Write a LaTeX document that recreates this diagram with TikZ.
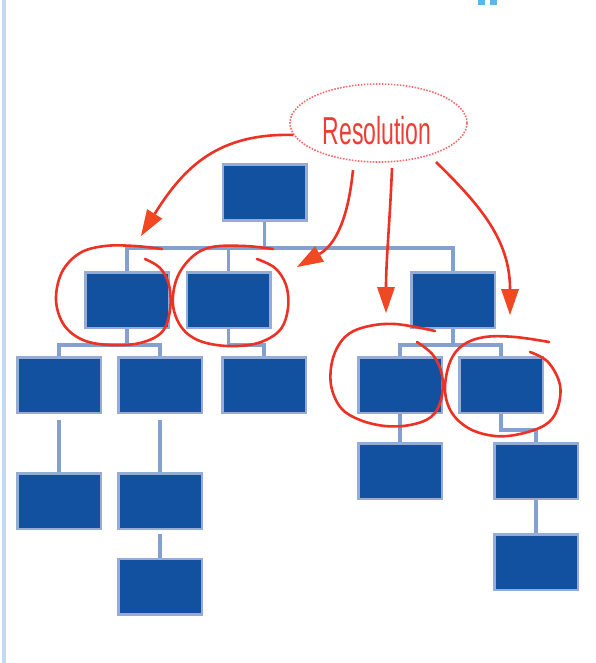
\documentclass[tikz,border=0pt]{standalone}
\usepackage{fontspec}
\setmainfont{Liberation Sans}
\usetikzlibrary{arrows.meta,shapes.geometric,calc,backgrounds}
\definecolor{boxfill}{RGB}{18,81,160}
\definecolor{boxedge}{RGB}{150,172,212}
\definecolor{connblue}{RGB}{132,160,206}
\definecolor{markred}{RGB}{236,50,36}
\definecolor{tipred}{RGB}{240,72,34}
\definecolor{ovalred}{RGB}{240,110,110}
\definecolor{labelred}{RGB}{238,62,52}
\definecolor{sidebar}{RGB}{197,218,240}
\definecolor{topmark}{RGB}{92,182,234}
\begin{document}
\begin{tikzpicture}[x=1pt,y=-1pt,
  orgbox/.style={draw=boxedge, fill=boxfill, line width=2.5pt,
    minimum width=83.5pt, minimum height=55.5pt, inner sep=0pt},
  conn/.style={draw=connblue, line width=3.5pt},
  redloop/.style={draw=markred, line width=2.6pt, line cap=round},
  redarrow/.style={draw=markred, line width=2.6pt,
    -{Triangle[length=26pt,width=18pt,fill=tipred,line width=0pt]}},
  resoval/.style={ellipse, draw=ovalred, line width=1.6pt,
    dash pattern=on 1.6pt off 1.4pt, minimum width=177pt, minimum height=78pt},
  restext/.style={text=labelred, font=\fontsize{39}{39}\selectfont, inner sep=0pt}]
\useasboundingbox (0,0) rectangle (595,663);

% page edge and the cut-off heading glyph
\draw[sidebar, line width=4pt] (4,0) -- (4,663);
\fill[topmark] (478,0) rectangle (485,5);
\fill[topmark] (490,0) rectangle (497,5);

% organisation chart boxes
\node[orgbox] (T) at (264.5,192.5) {};
\node[orgbox] (A) at (127,300) {};
\node[orgbox] (B) at (228.5,300) {};
\node[orgbox] (C) at (453,300) {};
\node[orgbox] (D) at (59,385) {};
\node[orgbox] (E) at (160,385) {};
\node[orgbox] (F) at (264,385) {};
\node[orgbox] (G) at (400,385) {};
\node[orgbox] (H) at (501,385) {};
\node[orgbox] (I) at (59,501) {};
\node[orgbox] (J) at (160,501) {};
\node[orgbox] (K) at (400,471) {};
\node[orgbox] (L) at (536,471) {};
\node[orgbox] (M) at (160,586.5) {};
\node[orgbox] (N) at (536,562) {};

% tree connectors, kept behind the boxes
\coordinate (bus0) at (0,248);
\coordinate (bus1) at (0,345);
\begin{pgfonlayer}{background}
\fill[white] (0,0) rectangle (595,663);
\draw[conn] (T.south) -- (T.south |- bus0);
\draw[conn] (A.north) |- (C.north |- bus0) -- (C.north);
\draw[conn] (B.north) -- (B.north |- bus0);
\draw[conn] (A.south) -- (A.south |- bus1);
\draw[conn] (D.north) |- (E.north |- bus1) -- (E.north);
\draw[conn] (B.south) |- (F.north |- bus1) -- (F.north);
\draw[conn] (C.south) -- (C.south |- bus1);
\draw[conn] (G.north) |- (H.north |- bus1) -- (H.north);
\draw[conn] ($(D.south)+(0,6)$) -- (I.north);
\draw[conn] ($(E.south)+(0,6)$) -- (J.north);
\draw[conn] ($(J.south)+(0,4)$) -- (M.north);
\draw[conn] (G.south) -- (K.north);
\draw[conn] (H.south) -- ++(0,16) -| (L.north);
\draw[conn] (L.south) -- (N.north);
\end{pgfonlayer}

% the Resolution callout
\node[resoval] (res) at (378.5,123) {};
\node[restext] (reslabel) at (377,131) {\scalebox{0.59}[1]{Resolution}};

% hand-drawn loops around the resolved units
\draw[redloop] plot[smooth, tension=0.6] coordinates {(145,259) (160,268) (169,285) (170,310) (162,332) (140,343) (110,345) (83,340) (64,325) (56,300) (62,272) (80,253) (105,246) (135,246) (162,249)};
\draw[redloop] plot[smooth, tension=0.6] coordinates {(257,259) (275,268) (286,285) (288,308) (280,330) (258,343) (228,346) (200,341) (182,328) (173,305) (177,278) (192,257) (212,247) (245,246) (273,249)};
\draw[redloop] plot[smooth, tension=0.6] coordinates {(417,342) (433,355) (442,375) (441,400) (431,417) (410,425) (385,426) (360,420) (341,408) (331,385) (333,358) (345,337) (365,327) (395,324) (435,331)};
\draw[redloop] plot[smooth, tension=0.6] coordinates {(530,352) (548,362) (560,385) (557,410) (545,425) (520,434) (495,436) (470,429) (452,413) (445,390) (450,362) (463,345) (485,337) (515,337) (549,342)};

% arrows from the callout
\coordinate (s2) at (353,170);
\coordinate (s3) at (392,168);
\coordinate (s4) at (436,162);
\coordinate (t1) at (141,236);
\coordinate (t2) at (297,267);
\coordinate (t3) at (386,313);
\coordinate (t4) at (510,315);
\draw[redarrow] (res.188) .. controls (220,133) and (185,165) .. (t1);
\draw[redarrow] (s2) .. controls (348,220) and (335,245) .. (t2);
\draw[redarrow] (s3) .. controls (390,220) and (386,260) .. (t3);
\draw[redarrow] (s4) .. controls (480,205) and (510,240) .. (t4);
\end{tikzpicture}
\end{document}
